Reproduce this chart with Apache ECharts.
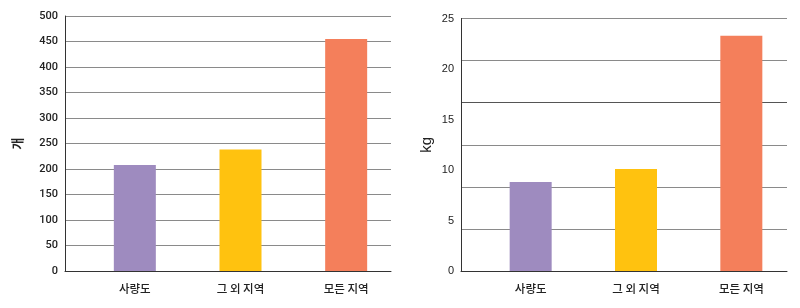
<!DOCTYPE html>
<html><head><meta charset="utf-8">
<script src="https://cdn.jsdelivr.net/npm/echarts@6/dist/echarts.min.js"></script>
<style>html,body{margin:0;padding:0;background:#fff}#c{width:800px;height:308px}</style>
</head><body><div id="c"></div>
<script>
const categories = ['사량도', '그 외 지역', '모든 지역'];
const countValues = [208, 238, 455];
const weightValues = [8.8, 10.1, 23.3];
const countTicks = {min: 0, max: 500, interval: 50};
const weightTicks = {min: 0, max: 25, interval: 5};
const weightGridTicks = {min: 0, max: 30, interval: 5};
const barColors = ['#9e8bbf', '#ffc20f', '#f47f5b'];

const chart = echarts.init(document.getElementById('c'), null, {renderer: 'canvas'});
const lblFont = 'Roboto, "Noto Sans", sans-serif';
const krFont = '"Noto Sans CJK KR", "Noto Sans", sans-serif';
const grey = '#8a8a8a';

chart.setOption({
  animation: false,
  grid: [
    {left: 65, right: 409, top: 16, bottom: 37},
    {left: 82, right: 401, top: 16, bottom: 37},
    {left: 461, right: 13, top: 18.5, bottom: 37},
    {left: 478, right: 6, top: 18.5, bottom: 37}
  ],
  xAxis: [
    {gridIndex: 0, type: 'category', data: categories, axisLine: {lineStyle: {color: '#333', width: 1}}, axisTick: {show: false}, axisLabel: {show: false}},
    {gridIndex: 1, type: 'category', data: categories, axisLine: {show: false}, axisTick: {show: false},
      axisLabel: {margin: 12, color: '#222', fontSize: 11.5, fontFamily: krFont, fontWeight: 500}},
    {gridIndex: 2, type: 'category', data: categories, axisLine: {lineStyle: {color: '#333', width: 1}}, axisTick: {show: false}, axisLabel: {show: false}},
    {gridIndex: 3, type: 'category', data: categories, axisLine: {show: false}, axisTick: {show: false},
      axisLabel: {margin: 12, color: '#222', fontSize: 11.5, fontFamily: krFont, fontWeight: 500}}
  ],
  yAxis: [
    {gridIndex: 0, type: 'value', position: 'left', min: countTicks.min, max: countTicks.max, interval: countTicks.interval,
      name: '개', nameLocation: 'middle', nameGap: 41, nameRotate: 90,
      nameTextStyle: {fontSize: 13, fontWeight: 'bold', color: '#222', fontFamily: krFont},
      axisLine: {show: true, lineStyle: {color: '#333'}}, axisTick: {show: false},
      axisLabel: {margin: 7, color: '#222', fontSize: 11, fontFamily: lblFont, fontWeight: 500},
      splitLine: {show: true, lineStyle: {color: grey, width: 1}}},
    {gridIndex: 1, type: 'value', min: countTicks.min, max: countTicks.max, interval: countTicks.interval, show: false, splitLine: {show: false}},
    {gridIndex: 2, type: 'value', position: 'left', min: weightGridTicks.min, max: weightGridTicks.max, interval: weightGridTicks.interval,
      axisLine: {show: true, lineStyle: {color: '#333'}}, axisTick: {show: false}, axisLabel: {show: false},
      splitLine: {show: true, lineStyle: {color: [grey, grey, grey, grey, '#555', grey, grey], width: 1}}},
    {gridIndex: 2, type: 'value', position: 'left', offset: 0, min: weightTicks.min, max: weightTicks.max, interval: weightTicks.interval,
      name: 'kg', nameLocation: 'middle', nameGap: 27, nameRotate: 90,
      nameTextStyle: {fontSize: 15, color: '#222', fontFamily: '"Liberation Sans", Arial, sans-serif'},
      axisLine: {show: false}, axisTick: {show: false}, splitLine: {show: false},
      axisLabel: {margin: 7, color: '#222', fontSize: 11, fontFamily: '"Liberation Sans", Arial, sans-serif'}},
    {gridIndex: 3, type: 'value', min: weightTicks.min, max: weightTicks.max, interval: weightTicks.interval, show: false, splitLine: {show: false}}
  ],
  series: [
    {type: 'bar', xAxisIndex: 1, yAxisIndex: 1, barWidth: 42, z: 5,
      data: countValues.map((v, i) => ({value: v, itemStyle: {color: barColors[i]}}))},
    {type: 'bar', xAxisIndex: 3, yAxisIndex: 4, barWidth: 42, z: 5,
      data: weightValues.map((v, i) => ({value: v, itemStyle: {color: barColors[i]}}))}
  ]
});
</script></body></html>
